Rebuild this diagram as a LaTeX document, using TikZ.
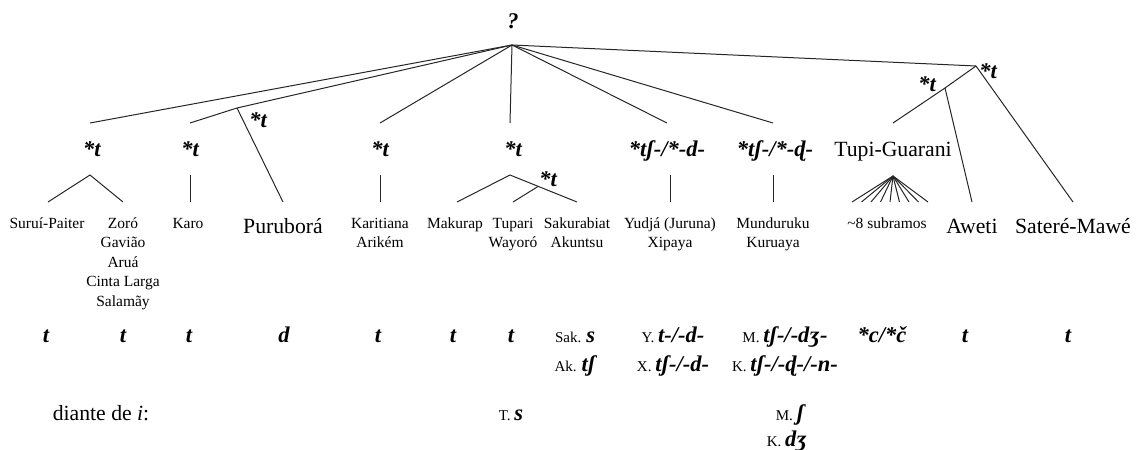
\documentclass[tikz,border=0pt]{standalone}
\usepackage{fontspec}
\setmainfont{Liberation Serif}
\usetikzlibrary{positioning}
\newcommand{\pfx}[1]{{\fontsize{15}{18}\selectfont\mdseries\upshape #1}}

\begin{document}
\begin{tikzpicture}[
    x=1pt, y=-1pt,
    lang/.style={font=\fontsize{15.5}{19.5}\selectfont, align=center, inner sep=0pt, anchor=base},
    biglang/.style={font=\fontsize{21.7}{26}\selectfont, inner sep=0pt, anchor=base},
    proto/.style={font=\fontsize{22.5}{27}\selectfont\bfseries\itshape, inner sep=0pt, anchor=base},
    branch/.style={line width=1pt, black!85}
]
\useasboundingbox (0,0) rectangle (1136,450);

% Root
\node[proto] (root) at (513,28) {?};
\coordinate (top) at (512,45);

% Reconstructions
\node[proto] (pSur) at (92,156) {*t};
\node[proto] (pKaro) at (190,156) {*t};
\node[proto] (pPuru) at (258,127) {*t};
\node[proto] (pKarit) at (380,156) {*t};
\node[proto] (pTup) at (513,156) {*t};
\node[proto] (pTupSub) at (548,186) {*t};
\node[proto] (pYud) at (667,156) {*tʃ-/*-d-};
\node[proto] (pMun) at (775,156) {*tʃ-/*-ɖ-};
\node[biglang] (tg) at (893,156) {Tupi-Guarani};
\node[proto] (pTG) at (927,91) {*t};
\node[proto] (pMawe) at (988,78) {*t};

% Languages (base = last line)
\node[lang] (surui) at (47,228) {Suruí-Paiter};
\node[lang] (zoro) at (123,306) {Zoró\\Gavião\\Aruá\\Cinta Larga\\Salamãy};
\node[lang] (karo) at (188,228) {Karo};
\node[biglang] (puru) at (283,233) {Puruborá};
\node[lang] (karit) at (380,247.5) {Karitiana\\Arikém};
\node[lang] (makurap) at (455,228) {Makurap};
\node[lang] (tupari) at (513,247.5) {Tupari\\Wayoró};
\node[lang] (sakur) at (577,247.5) {Sakurabiat\\Akuntsu};
\node[lang] (yudja) at (670,247.5) {Yudjá (Juruna)\\Xipaya};
\node[lang] (mundu) at (773,247.5) {Munduruku\\Kuruaya};
\node[lang] (subr) at (887,228) {\textasciitilde8 subramos};
\node[biglang] (aweti) at (972,233) {Aweti};
\node[biglang] (mawe) at (1073,233) {Sateré-Mawé};

% Reflexes
\node[proto] (rSur) at (46,342) {t};
\node[proto] (rZoro) at (123,342) {t};
\node[proto] (rKaro) at (189,342) {t};
\node[proto] (rPuru) at (284,342) {d};
\node[proto] (rKarit) at (378,342) {t};
\node[proto] (rMak) at (453,342) {t};
\node[proto] (rTup) at (511,342) {t};
\node[proto] (rSak) at (575,342) {\pfx{Sak. }s};
\node[proto] (rAk) at (575,371) {\pfx{Ak. }tʃ};
\node[proto] (rY) at (673,342) {\pfx{Y. }t-/-d-};
\node[proto] (rX) at (673,371) {\pfx{X. }tʃ-/-d-};
\node[proto] (rM) at (785,342) {\pfx{M. }tʃ-/-dʒ-};
\node[proto] (rK) at (785,371) {\pfx{K. }tʃ-/-ɖ-/-n-};
\node[proto] (rTG) at (882,342) {*c/*č};
\node[proto] (rAw) at (965,342) {t};
\node[proto] (rMawe) at (1068,342) {t};

% Before i
\node[biglang] (antesI) at (101,420) {diante de \textit{i}:};
\node[proto] (iT) at (511,420) {\pfx{T. }s};
\node[proto] (iM) at (790,420) {\pfx{M. }ʃ};
\node[proto] (iK) at (787,446) {\pfx{K. }dʒ};

% Upper branch points
\coordinate (sur0) at (90,123);
\coordinate (karo0) at (190,123);
\coordinate (puru0) at (237,108);
\coordinate (karit0) at (380,123);
\coordinate (tup0) at (510,123);
\coordinate (yud0) at (667,123);
\coordinate (mun0) at (773,123);
\coordinate (tupg0) at (976,66);
\coordinate (aw0) at (945,88);
\coordinate (tg0) at (893,123);

\draw[branch] (top) -- (sur0);
\draw[branch] (top) -- (puru0) -- (karo0);
\draw[branch] (top) -- (karit0);
\draw[branch] (top) -- (tup0);
\draw[branch] (top) -- (yud0);
\draw[branch] (top) -- (mun0);
\draw[branch] (top) -- (tupg0);
\draw[branch] (tupg0) -- (aw0) -- (tg0);

% Lower branches
\coordinate (surA) at (90,175);
\coordinate (surL) at (48,202);
\coordinate (zoroL) at (123,202);
\coordinate (karoA) at (190,175);
\coordinate (karoL) at (190,202);
\coordinate (puruL) at (283,202);
\coordinate (karitA) at (380,175);
\coordinate (karitL) at (380,202);
\coordinate (tupA) at (510,175);
\coordinate (makL) at (457,202);
\coordinate (sakL) at (577,202);
\coordinate (tupB) at (538,186.5);
\coordinate (tupL) at (513,202);
\coordinate (yudA) at (670,175);
\coordinate (yudL) at (670,202);
\coordinate (munA) at (773,175);
\coordinate (munL) at (773,202);
\coordinate (tgA) at (893,176);
\coordinate (awL) at (972,202);
\coordinate (maweL) at (1073,202);

\draw[branch] (surL) -- (surA) -- (zoroL);
\draw[branch] (karoA) -- (karoL);
\draw[branch] (puru0) -- (puruL);
\draw[branch] (karitA) -- (karitL);
\draw[branch] (makL) -- (tupA) -- (sakL);
\draw[branch] (tupB) -- (tupL);
\draw[branch] (yudA) -- (yudL);
\draw[branch] (munA) -- (munL);
\draw[branch] (aw0) -- (awL);
\draw[branch] (tupg0) -- (maweL);
\foreach \i in {0,...,8}
  \draw[branch] (tgA) -- ++(-41+9.5*\i,26);

\end{tikzpicture}
\end{document}
